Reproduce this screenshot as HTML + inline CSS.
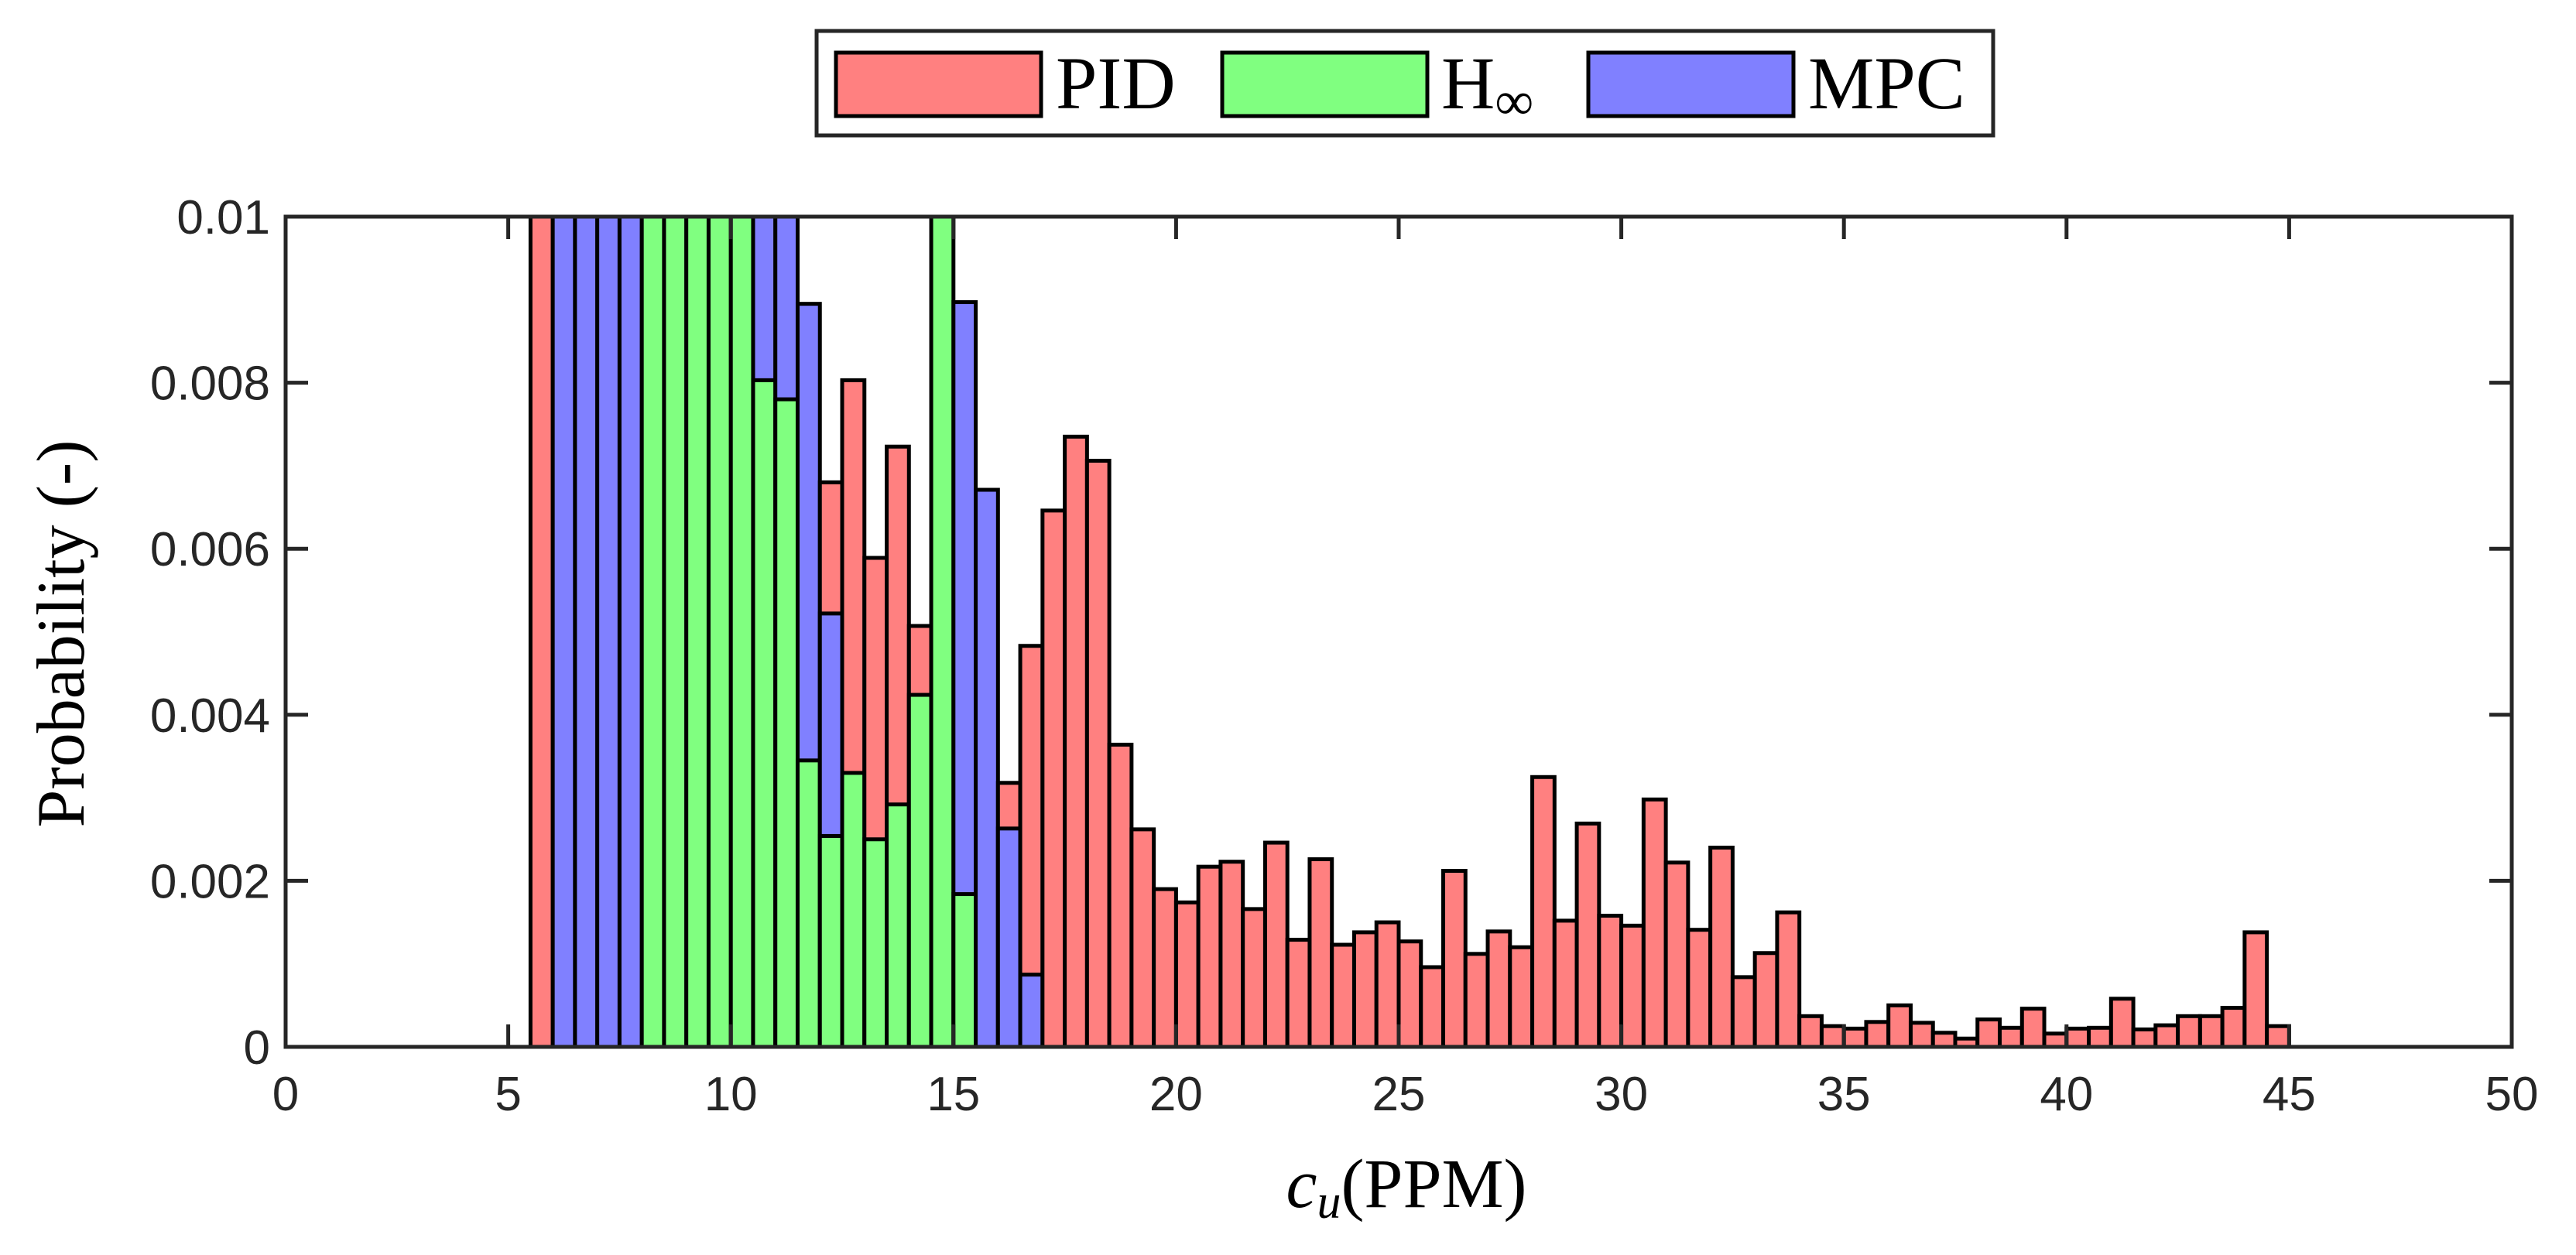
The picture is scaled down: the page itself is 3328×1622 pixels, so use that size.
<!DOCTYPE html>
<html><head><meta charset="utf-8"><style>
html,body{margin:0;padding:0;background:#fff;}
svg{display:block;}
</style></head><body>
<svg id="chart" xmlns="http://www.w3.org/2000/svg" width="3328" height="1622" viewBox="0 0 3328 1622">
<defs><clipPath id="plotclip"><rect x="369" y="280" width="2876" height="1073"/></clipPath></defs>
<rect width="3328" height="1622" fill="#fff"/>
<g id="bars" clip-path="url(#plotclip)"></g>
<g id="axes"></g>
<g>
<rect x="1055" y="40" width="1520" height="135" fill="#fff" stroke="#262626" stroke-width="5"/>
<rect x="1080" y="68" width="265" height="82" fill="#FF8080" stroke="#000" stroke-width="5"/>
<text x="1364" y="140" font-family="Liberation Serif, serif" font-size="96" fill="#000">PID</text>
<rect x="1579" y="68" width="265" height="82" fill="#80FF80" stroke="#000" stroke-width="5"/>
<text x="1862" y="140" font-family="Liberation Serif, serif" font-size="96" fill="#000">H<tspan font-size="70" dy="14">∞</tspan></text>
<rect x="2052" y="68" width="265" height="82" fill="#8080FF" stroke="#000" stroke-width="5"/>
<text x="2336" y="140" font-family="Liberation Serif, serif" font-size="96" fill="#000">MPC</text>
</g>
<text transform="translate(108,819) rotate(-90)" text-anchor="middle" font-family="Liberation Serif, serif" font-size="88" fill="#000">Probability (-)</text>
<text x="1817" y="1560" text-anchor="middle" font-family="Liberation Serif, serif" font-size="90" fill="#000"><tspan font-style="italic">c</tspan><tspan font-style="italic" font-size="62" dy="14">u</tspan><tspan dy="-14">(PPM)</tspan></text>
</svg>
<script>
const binStart = 5.5;
const binWidth = 0.5;
const pid = [0.012,0,0,0,0,0,0,0,0,0,0,0,0,0.0068,0.00803,0.00589,0.00723,0.00507,0,0,0,0.00318,0.00483,0.00646,0.00735,0.00706,
0.00364,0.00262,0.0019,0.00174,0.00217,0.00223,0.00166,0.00246,0.00129,0.00226,0.00123,0.00138,0.0015,0.00127,0.00096,0.00212,0.00112,0.00139,0.0012,0.00325,0.00152,0.00269,0.00158,0.00146,0.00298,0.00222,0.00141,0.0024,0.00084,0.00113,0.00162,
0.00037,0.00025,0.00022,0.0003,0.0005,0.00029,0.00017,0.0001,0.00033,0.00023,0.00046,0.00016,0.00022,0.00023,0.00058,0.00021,0.00026,0.00037,0.00037,0.00047,0.00138,0.00025];
const hinf = [0,0,0,0,0,0.012,0.012,0.012,0.012,0.012,0.00803,0.0078,0.00345,0.00254,0.0033,0.0025,0.00292,0.00424,0.012,0.00184];
const mpc = [0,0.012,0.012,0.012,0.012,0,0,0,0,0,0.012,0.012,0.00895,0.00522,0,0,0,0,0,0.00897,0.00671,0.00263,0.00087];
const xTicks = [0,5,10,15,20,25,30,35,40,45,50];
const yTicks = [0,0.002,0.004,0.006,0.008,0.01];
const yTickLabels = ["0","0.002","0.004","0.006","0.008","0.01"];

const L=369,R=3245,T=280,B=1353;
const xs = v => L + (v-0)/(50-0)*(R-L);
const ys = v => B - (v-0)/(0.01-0)*(B-T);
const NS="http://www.w3.org/2000/svg";
const bars=document.getElementById('bars');
const axes=document.getElementById('axes');
const series=[{n:'pid',d:pid,c:'#FF8080'},{n:'hinf',d:hinf,c:'#80FF80'},{n:'mpc',d:mpc,c:'#8080FF'}];
const nb=pid.length;
for(let i=0;i<nb;i++){
  const x0=binStart+i*binWidth;
  const items=series.map(s=>({n:s.n,c:s.c,v:s.d[i]||0})).filter(o=>o.v>0).sort((a,b)=>b.v-a.v);
  items.forEach(o=>{
    const r=document.createElementNS(NS,'rect');
    const xa=xs(x0), xb=xs(x0+binWidth), yt=ys(o.v);
    r.setAttribute('x',xa);r.setAttribute('width',xb-xa);
    r.setAttribute('y',yt);r.setAttribute('height',B-yt);
    r.setAttribute('fill',o.c);r.setAttribute('stroke','#000');r.setAttribute('stroke-width','5');
    
    
    bars.appendChild(r);
  });
}
function line(x1,y1,x2,y2,name){
  const l=document.createElementNS(NS,'line');
  l.setAttribute('x1',x1);l.setAttribute('y1',y1);l.setAttribute('x2',x2);l.setAttribute('y2',y2);
  l.setAttribute('stroke','#262626');l.setAttribute('stroke-width','5');
  
  
  axes.appendChild(l);
}
function txt(x,y,s,anchor,name){
  const t=document.createElementNS(NS,'text');
  t.setAttribute('x',x);t.setAttribute('y',y);t.setAttribute('text-anchor',anchor);
  t.setAttribute('font-family','Liberation Sans, sans-serif');t.setAttribute('font-size','62');t.setAttribute('fill','#262626');
  t.textContent=s;
  
  
  axes.appendChild(t);
}
const rect=document.createElementNS(NS,'rect');
rect.setAttribute('x',L);rect.setAttribute('y',T);rect.setAttribute('width',R-L);rect.setAttribute('height',B-T);
rect.setAttribute('fill','none');rect.setAttribute('stroke','#262626');rect.setAttribute('stroke-width','5');


axes.appendChild(rect);
xTicks.forEach(v=>{
  const x=xs(v);
  line(x,B,x,B-29,'x-tick-'+v);
  line(x,T,x,T+29,'x-tick-top-'+v);
  txt(x,B+82,String(v),'middle','x-tick-label-'+v);
});
yTicks.forEach((v,i)=>{
  const y=ys(v);
  line(L,y,L+29,y,'y-tick-'+i);
  line(R,y,R-29,y,'y-tick-right-'+i);
  txt(L-20,y+22,yTickLabels[i],'end','y-tick-label-'+i);
});
</script>
</body></html>
